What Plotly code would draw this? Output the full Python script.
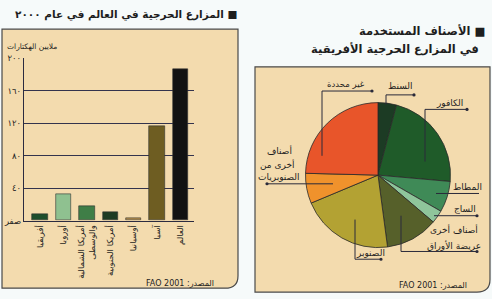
import plotly.graph_objects as go

W, H = 492, 299

# ---- data: left bar chart (million hectares, 2000) ----
regions = ["أفريقيا", "أوروبا", "أمريكا الشمالية<br>والوسطى", "أمريكا الجنوبية",
           "أوسيانيا", "آسيا", "العالم"]
areas = [8.0, 32.0, 17.5, 10.5, 3.2, 116.0, 187.0]
bar_colors = ["#1d4e2c", "#8fc190", "#3f7e47", "#1d3b23", "#b8914a", "#6e5d22", "#121212"]
y_ticks = [0, 40, 80, 120, 160, 200]
y_ticktext = ["صفر", "٤٠", "٨٠", "١٢٠", "١٦٠", "٢٠٠"]

# ---- data: right pie chart (species share %, Africa) ----
species = ["السنط", "الكافور", "المطاط", "الساج", "أصناف أخرى عريضة الأوراق",
           "الصنوبر", "أصناف أخرى من الصنوبريات", "غير محددة"]
shares = [4.1, 22.3, 6.9, 2.9, 11.7, 20.8, 6.7, 24.6]
pie_colors = ["#1c3b24", "#1f5b29", "#3f8a57", "#8fc59b", "#56602a",
              "#b3a233", "#f0922c", "#e8552a"]

FONT = "DejaVu Sans"
TXT = "#1e1e1e"


def px(x):
    return x / W


def py(y):
    return 1 - y / H


fig = go.Figure()

fig.add_trace(go.Bar(
    x=regions, y=areas, marker=dict(color=bar_colors, line=dict(color="#333", width=0.6)),
    width=0.66, xaxis="x", yaxis="y", showlegend=False, hoverinfo="skip"))

fig.add_trace(go.Pie(
    labels=species, values=shares, sort=False, direction="clockwise", rotation=0,
    marker=dict(colors=pie_colors, line=dict(color="#2a2a2a", width=0.8)),
    textinfo="none", hoverinfo="skip", showlegend=False,
    domain=dict(x=[px(378 - 75), px(378 + 75)], y=[py(176 + 75), py(176 - 75)])))

shapes = []


def panel_path(x0, y0, x1, y1, r):
    p = lambda x, y: f"{px(x):.5f},{py(y):.5f}"
    return (f"M {p(x0, y0)} L {p(x1, y0)} L {p(x1, y1 - r)} "
            f"Q {p(x1, y1)} {p(x1 - r, y1)} L {p(x0, y1)} Z")


for (x0, y0, x1, y1) in [(2, 25, 238, 293), (255, 64, 490, 297)]:
    shapes.append(dict(type="path", xref="paper", yref="paper", layer="below",
                       path=panel_path(x0, y0, x1, y1, 13),
                       fillcolor="#f3dbae", line=dict(color="#4a4a4a", width=1.2)))

# leader lines for pie labels (pixel coordinates of annotation guides)
leaders = [
    [(322, 156), (322, 89), (372, 89)],
    [(386, 103), (386, 93), (414, 93)],
    [(425, 162), (425, 108), (467, 108)],
    [(436, 195), (479, 195)],
    [(434, 218), (477, 218)],
    [(401, 218), (401, 255), (477, 255)],
    [(355, 222), (355, 263), (381, 263)],
    [(333, 185), (267, 185)],
]
dots = [(372, 89), (414, 93), (467, 108), (477, 218), (477, 255), (381, 263), (267, 185)]
for pts in leaders:
    for (a, b) in zip(pts[:-1], pts[1:]):
        shapes.append(dict(type="line", xref="paper", yref="paper", layer="above",
                           x0=px(a[0]), y0=py(a[1]), x1=px(b[0]), y1=py(b[1]),
                           line=dict(color="#2a2a3a", width=1)))
for (x, y) in dots:
    shapes.append(dict(type="circle", xref="paper", yref="paper", layer="above",
                       x0=px(x - 1.6), x1=px(x + 1.6), y0=py(y - 1.6), y1=py(y + 1.6),
                       fillcolor="#2a2a3a", line=dict(width=0)))

ann = []


def text(x, y, s, size=10, anchor="center"):
    ann.append(dict(x=px(x), y=py(y), xref="paper", yref="paper", text=s,
                    showarrow=False, xanchor=anchor, yanchor="middle",
                    font=dict(family=FONT, size=size, color=TXT),
                    align=anchor if anchor != "center" else "center"))


# titles
text(239, 10, "<b>المزارع الحرجية في العالم في عام ٢٠٠٠ ■</b>", 10.5, "right")
text(487, 27, "<b>الأصناف المستخدمة ■</b>", 11.5, "right")
text(481, 46, "<b>في المزارع الحرجية الأفريقية</b>", 11.5, "right")

# axis unit label
text(59, 43, "ملايين الهكتارات", 7.5, "right")

# source lines
text(216, 288, "FAO 2001 :المصدر", 8, "right")
text(469, 290, "FAO 2001 :المصدر", 8, "right")

# pie labels
text(346, 82, "غير محددة", 8.5)
text(400, 84, "السنط", 9)
text(449, 101, "الكافور", 9)
text(467, 188, "المطاط", 9)
text(465, 211, "الساج", 9)
text(454, 232, "أصناف أخرى", 9)
text(454, 249, "عريضة الأوراق", 9)
text(370, 257, "الصنوبر", 9)
text(279, 151, "أصناف", 9)
text(277, 165, "أخرى من", 9)
text(279, 178, "الصنوبريات", 9)

fig.update_layout(
    width=W, height=H, margin=dict(l=0, r=0, t=0, b=0),
    paper_bgcolor="#f6fafa", plot_bgcolor="rgba(0,0,0,0)",
    font=dict(family=FONT, color=TXT),
    shapes=shapes, annotations=ann, bargap=0,
    xaxis=dict(domain=[px(24), px(194)], range=[-0.683, 6.576], type="category",
               tickangle=-90, showgrid=False, showline=True, linecolor="#2b2b40",
               linewidth=1.3, ticks="", tickfont=dict(family=FONT, size=8.5, color=TXT),
               fixedrange=True),
    yaxis=dict(domain=[py(223), py(55)], range=[0, 200], tickvals=y_ticks,
               ticktext=y_ticktext, showgrid=True, gridcolor="#33334d", gridwidth=1.3,
               showline=True, linecolor="#2b2b40", linewidth=1.3, ticks="",
               zeroline=False, tickfont=dict(family=FONT, size=8.5, color=TXT),
               fixedrange=True),
)

fig.write_html("out.html")
